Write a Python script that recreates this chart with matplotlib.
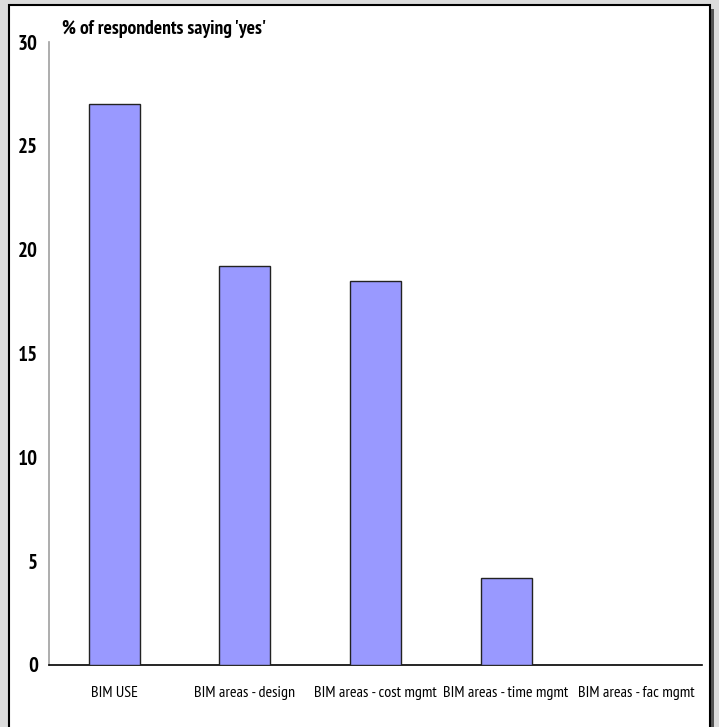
import matplotlib
matplotlib.use("Agg")
import matplotlib.pyplot as plt
from matplotlib.patches import Rectangle

categories = ["BIM USE", "BIM areas - design", "BIM areas - cost mgmt",
              "BIM areas - time mgmt", "BIM areas - fac mgmt"]
values = [27.0, 19.2, 18.5, 4.2, 0.0]
yticks = [0, 5, 10, 15, 20, 25, 30]
title = "% of respondents saying 'yes'"

fam = ["PT Sans Narrow", "DejaVu Sans"]

W, H = 719, 727
fig = plt.figure(figsize=(W / 100, H / 100), dpi=100)
fig.patch.set_facecolor("#DCDCDC")

# white panel with shadow and black border
fig.add_artist(Rectangle((12 / W, -0.01), 702 / W, 1 - 9 / H + 0.01, transform=fig.transFigure,
                         facecolor="#555555", edgecolor="none", zorder=-3))
fig.add_artist(Rectangle((9 / W, -0.01), 701 / W, 1 - 5 / H + 0.01, transform=fig.transFigure,
                         facecolor="white", edgecolor="black", linewidth=1.5, zorder=-2))

ax = fig.add_axes([49 / W, (H - 665) / H, (702 - 49) / W, (665 - 42) / H])
ax.set_facecolor("none")
x = range(len(categories))
ax.bar(x, values, width=0.39, color="#9999FF", edgecolor="#222222", linewidth=1.0, zorder=3)
ax.set_xlim(-0.5, len(categories) - 0.5)
ax.set_ylim(0, 30)
ax.set_yticks(yticks)
ax.set_yticklabels([str(t) for t in yticks], family=fam, fontsize=15, fontweight="bold")
ax.set_xticks(list(x))
ax.set_xticklabels(categories, family=fam, fontsize=11.5)
ax.tick_params(axis="y", length=0, pad=8)
ax.tick_params(axis="x", length=0, pad=15)
for s in ["top", "right"]:
    ax.spines[s].set_visible(False)
ax.spines["left"].set_color("#A0A0A0")
ax.spines["left"].set_linewidth(1.2)
ax.spines["bottom"].set_color("black")
ax.spines["bottom"].set_linewidth(1.2)

fig.text(62 / W, 1 - 29 / H, title, family=fam, fontsize=14, fontweight="bold",
         va="center", ha="left")

fig.savefig("out.png", dpi=100, facecolor=fig.get_facecolor())
